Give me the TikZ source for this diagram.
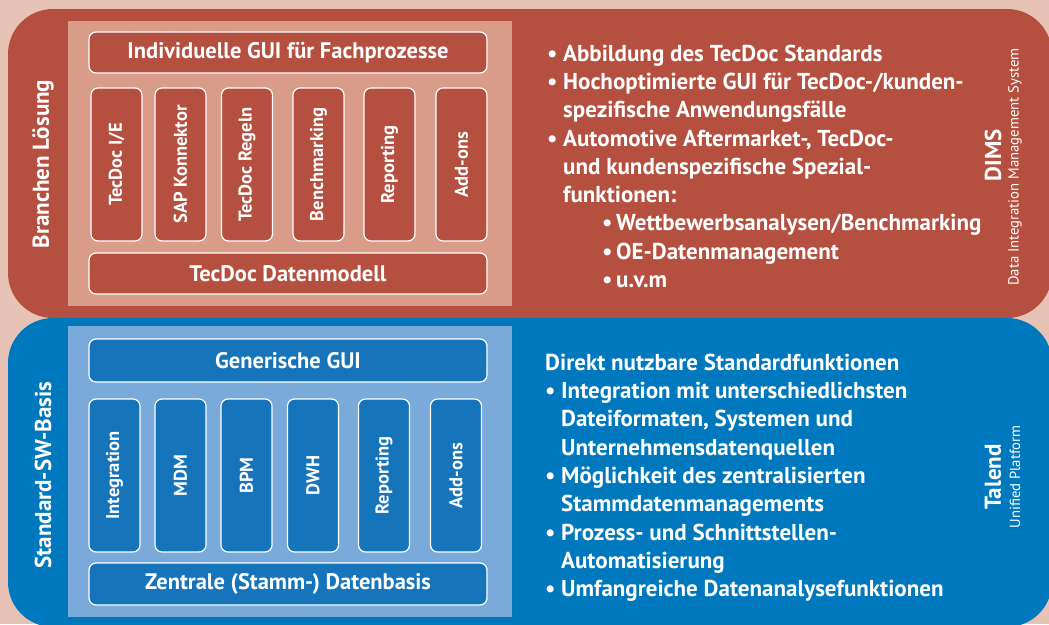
\documentclass[tikz,border=0pt]{standalone}
\usepackage{fontspec}
\setmainfont{PT Sans}

\definecolor{bgpink}{HTML}{E6C3B4}
\definecolor{rotdunkel}{HTML}{B55040}
\definecolor{rothell}{HTML}{D99C89}
\definecolor{blaudunkel}{HTML}{0078BE}
\definecolor{blauhell}{HTML}{7AAADA}
\definecolor{blaubox}{HTML}{1674BA}

\newcommand{\bull}{\makebox[16pt][l]{\textbullet}}
\newcommand{\einzug}{\makebox[16pt]{}}
\newcommand{\subbull}{\makebox[55pt]{}\makebox[14pt][l]{\textbullet}}

\tikzset{
  box/.style={draw=white, line width=1.2pt, rounded corners=7pt, text=white,
    inner sep=0pt, font=\bfseries\fontsize{22.5}{26}\selectfont},
  widebox/.style={box, minimum width=398, minimum height=41},
  colbox/.style={box, rotate=90, minimum width=153, minimum height=51,
    font=\bfseries\fontsize{18.5}{22}\selectfont},
  sidelabel/.style={rotate=90, text=white, font=\bfseries\fontsize{23}{27}\selectfont},
  sublabel/.style={rotate=90, text=white, font=\fontsize{14.7}{17}\selectfont},
  listtext/.style={text=white, align=left, inner sep=0pt,
    font=\bfseries\fontsize{23}{28.3}\selectfont}
}

\begin{document}
\begin{tikzpicture}[x=1pt,y=-1pt]
%\draw[step=50,gray,very thin] (0,0) grid (1049,624); %background grid
\useasboundingbox (0,0) rectangle (1049,624);
\clip (0,0) rectangle (1049,624);
\fill[bgpink] (0,0) rectangle (1049,624);

% Panels
\fill[rotdunkel, rounded corners=45] (8,9) rectangle (1052,318);
\fill[blaudunkel, rounded corners=45] (8,318) rectangle (1052,627);
\fill[rothell] (68,21) rectangle (512,306);
\fill[blauhell] (68,326) rectangle (512,617);

% Branchen Loesung
\node[widebox, fill=rotdunkel] (gui) at (288,52.5) {Individuelle GUI für Fachprozesse};
\node[colbox, fill=rotdunkel] (ie)      at (116.5,164.5) {TecDoc I/E};
\node[colbox, fill=rotdunkel] (sap)     at (180.5,164.5) {SAP Konnektor};
\node[colbox, fill=rotdunkel] (regeln)  at (247,164.5)   {TecDoc Regeln};
\node[colbox, fill=rotdunkel] (bench)   at (318.5,164.5) {Benchmarking};
\node[colbox, fill=rotdunkel] (report)  at (389.5,164.5) {Reporting};
\node[colbox, fill=rotdunkel] (addons)  at (461.5,164.5) {Add-ons};
\node[widebox, fill=rotdunkel] (datenmodell) at (288,273.5) {TecDoc Datenmodell};

\node[sidelabel] (branche) at (43,164) {Branchen Lösung};

\node[listtext, anchor=base west] (dimsliste) at (547,287.5) {%
\bull Abbildung des TecDoc Standards\\
\bull Hochoptimierte GUI für TecDoc-/kunden-\\
\einzug spezifische Anwendungsfälle\\
\bull Automotive Aftermarket-, TecDoc-\\
\einzug und kundenspezifische Spezial-\\
\einzug funktionen:\\
\subbull Wettbewerbsanalysen/Benchmarking\\
\subbull OE-Datenmanagement\\
\subbull u.v.m};

\node[sidelabel] (dims) at (993,155) {DIMS};
\node[sublabel] (dimssub) at (1015,167) {Data Integration Management System};

% Standard-SW-Basis
\node[widebox, fill=blaubox, minimum height=43] (ggui) at (288,360.5) {Generische GUI};
\node[colbox, fill=blaubox] (integ)   at (114.5,475.5) {Integration};
\node[colbox, fill=blaubox] (mdm)     at (180.5,475.5) {MDM};
\node[colbox, fill=blaubox] (bpm)     at (246.5,475.5) {BPM};
\node[colbox, fill=blaubox] (dwh)     at (313,475.5)   {DWH};
\node[colbox, fill=blaubox] (sreport) at (384,475.5)   {Reporting};
\node[colbox, fill=blaubox] (saddons) at (456,475.5)   {Add-ons};
\node[widebox, fill=blaubox, minimum height=42] (stammdb) at (288,584) {Zentrale (Stamm-) Datenbasis};

\node[sidelabel] (basis) at (43,475) {Standard-SW-Basis};

\node[listtext, anchor=base west] (talendliste) at (545,596.7) {%
Direkt nutzbare Standardfunktionen\\
\bull Integration mit unterschiedlichsten\\
\einzug Dateiformaten, Systemen und\\
\einzug Unternehmensdatenquellen\\
\bull Möglichkeit des zentralisierten\\
\einzug Stammdatenmanagements\\
\bull Prozess- und Schnittstellen-\\
\einzug Automatisierung\\
\bull Umfangreiche Datenanalysefunktionen};

\node[sidelabel] (talend) at (993,477) {Talend};
\node[sublabel] (talendsub) at (1015,477) {Unified Platform};

\end{tikzpicture}
\end{document}
